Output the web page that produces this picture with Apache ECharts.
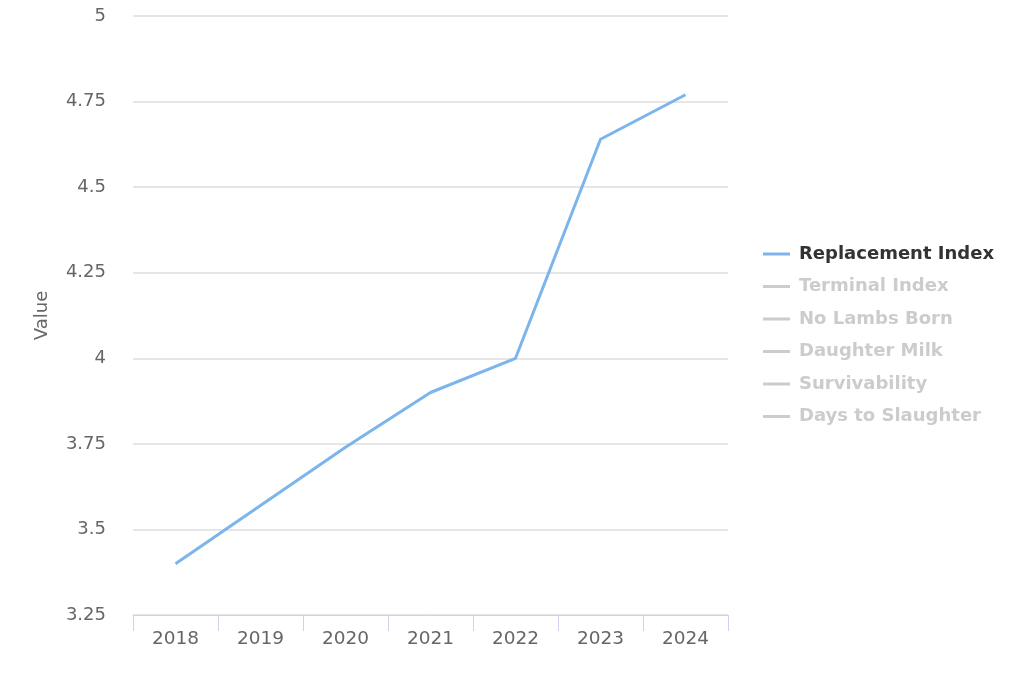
<!DOCTYPE html>
<html>
<head>
<meta charset="utf-8">
<script src="https://cdn.jsdelivr.net/npm/echarts@6/dist/echarts.min.js"></script>
<style>
html,body{margin:0;padding:0;background:#fff;}
#chart{width:1024px;height:683px;}
</style>
</head>
<body>
<div id="chart"></div>
<script>
var years = ['2018','2019','2020','2021','2022','2023','2024'];
var replacementIndex = [3.40, 3.57, 3.74, 3.90, 4.00, 4.64, 4.77];
// Hidden series (deselected in legend; values not visible in the reference)
var terminalIndex = [];
var noLambsBorn = [];
var daughterMilk = [];
var survivability = [];
var daysToSlaughter = [];
var seriesNames = ['Replacement Index','Terminal Index','No Lambs Born','Daughter Milk','Survivability','Days to Slaughter'];
var seriesData = [replacementIndex, terminalIndex, noLambsBorn, daughterMilk, survivability, daysToSlaughter];
var palette = ['#7cb5ec','#434348','#90ed7d','#f7a35c','#8085e9','#f15c80'];

var FONT = 'DejaVu Sans';
var chart = echarts.init(document.getElementById('chart'));
var selected = {};
seriesNames.forEach(function(n,i){ selected[n] = i === 0; });

chart.setOption({
  animation: false,
  color: palette,
  textStyle: {fontFamily: FONT},
  grid: {left: 133, right: 296, top: 16, bottom: 68},
  legend: {
    orient: 'vertical',
    left: 758,
    top: 239,
    icon: 'rect',
    itemWidth: 27,
    itemHeight: 3,
    itemGap: 12.5,
    selected: selected,
    inactiveColor: '#cccccc',
    textStyle: {fontSize: 18, fontWeight: 'bold', color: '#333333', fontFamily: FONT, lineHeight: 20, padding: [0,0,0,4]},
    data: seriesNames
  },
  xAxis: {
    type: 'category',
    data: years,
    boundaryGap: true,
    axisLine: {lineStyle: {color: '#ccd6eb', width: 1}},
    axisTick: {show: true, length: 16, lineStyle: {color: '#ccd6eb'}},
    axisLabel: {color: '#666666', fontSize: 18.5, margin: 15, fontFamily: FONT},
    splitLine: {show: false}
  },
  yAxis: {
    type: 'value',
    min: 3.25,
    max: 5,
    interval: 0.25,
    name: 'Value',
    nameLocation: 'middle',
    nameGap: 82,
    nameTextStyle: {color: '#666666', fontSize: 18, fontFamily: FONT},
    axisLine: {show: false},
    axisTick: {show: false},
    axisLabel: {color: '#666666', fontSize: 18, margin: 27, fontFamily: FONT},
    splitLine: {lineStyle: {color: '#dedede', width: 1.5}}
  },
  series: seriesNames.map(function(n,i){
    return {
      name: n,
      type: 'line',
      data: seriesData[i],
      showSymbol: false,
      symbol: 'none',
      lineStyle: {width: 3, color: palette[i]},
      itemStyle: {color: palette[i]}
    };
  })
});
</script>
</body>
</html>
